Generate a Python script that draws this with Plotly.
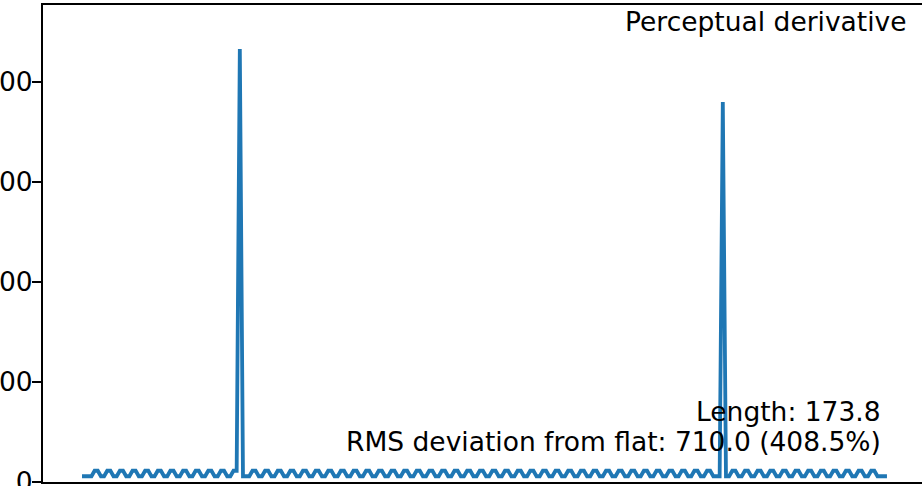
import plotly.graph_objects as go

# perceptual derivative of a 256-step colormap
deriv = [
    115, 115, 115, 115, 225, 225, 115, 115, 225, 225, 115, 115, 225, 225, 115, 115,
    225, 225, 115, 115, 225, 225, 115, 115, 225, 225, 115, 115, 225, 225, 115, 115,
    225, 225, 115, 115, 225, 225, 115, 115, 225, 225, 115, 115, 225, 225, 115, 115,
    225, 225, 8660, 115, 115, 115, 225, 225, 115, 115, 225, 225, 115, 115, 225, 225,
    115, 115, 225, 225, 115, 115, 225, 225, 115, 115, 225, 225, 115, 115, 225, 225,
    115, 115, 225, 225, 115, 115, 225, 225, 115, 115, 225, 225, 115, 115, 225, 225,
    115, 115, 225, 225, 115, 115, 225, 225, 115, 115, 225, 225, 115, 115, 225, 225,
    115, 115, 225, 225, 115, 115, 225, 225, 115, 115, 225, 225, 115, 115, 225, 225,
    115, 115, 225, 225, 115, 115, 225, 225, 115, 115, 225, 225, 115, 115, 225, 225,
    115, 115, 225, 225, 115, 115, 225, 225, 115, 115, 225, 225, 115, 115, 225, 225,
    115, 115, 225, 225, 115, 115, 225, 225, 115, 115, 225, 225, 115, 115, 225, 225,
    115, 115, 225, 225, 115, 115, 225, 225, 115, 115, 225, 225, 115, 115, 225, 225,
    115, 115, 225, 225, 115, 115, 225, 225, 115, 115, 115, 7600, 115, 115, 225, 225,
    115, 115, 225, 225, 115, 115, 225, 225, 115, 115, 225, 225, 115, 115, 225, 225,
    115, 115, 225, 225, 115, 115, 225, 225, 115, 115, 225, 225, 115, 115, 225, 225,
    115, 115, 225, 225, 115, 115, 225, 225, 115, 115, 225, 225, 115, 115, 115, 115,
]
steps = list(range(len(deriv)))

y_ticks = [0, 2000, 4000, 6000, 8000]
title_text = "Perceptual derivative"
length_text = "Length: 173.8"
rms_text = "RMS deviation from flat: 710.0 (408.5%)"

FONT = "DejaVu Sans"
FS = 26.5

fig = go.Figure()
fig.add_trace(go.Scatter(
    x=steps,
    y=deriv,
    mode="lines",
    line=dict(color="#1f77b4", width=3.8),
    hoverinfo="none",
    cliponaxis=False,
))

fig.update_layout(
    width=922,
    height=486,
    margin=dict(l=43, r=0, t=5, b=4, autoexpand=False),
    paper_bgcolor="white",
    plot_bgcolor="white",
    showlegend=False,
    font=dict(family=FONT, size=FS, color="black"),
    xaxis=dict(
        range=[-12.35, 266.1],
        automargin=False,
        showgrid=False,
        zeroline=False,
        showline=True,
        mirror=True,
        linecolor="black",
        linewidth=2,
        ticks="",
        showticklabels=False,
    ),
    yaxis=dict(
        range=[0, 9540],
        automargin=False,
        tickvals=y_ticks,
        showgrid=False,
        zeroline=False,
        showline=True,
        linecolor="black",
        linewidth=2,
        ticks="outside",
        ticklen=9,
        tickwidth=2,
        tickcolor="black",
        tickfont=dict(family=FONT, size=FS, color="black"),
        ticklabelstandoff=-6,
        ticklabeloverflow="allow",
    ),
    annotations=[
        dict(text=title_text, xref="paper", yref="paper", x=0.9852, y=0.9644,
             xanchor="right", yanchor="middle", showarrow=False),
        dict(text=length_text, xref="paper", yref="paper", x=0.9556, y=0.1468,
             xanchor="right", yanchor="middle", showarrow=False),
        dict(text=rms_text, xref="paper", yref="paper", x=0.9556, y=0.0849,
             xanchor="right", yanchor="middle", showarrow=False),
    ],
)

# drop the browser's default body margin so the figure sits at the window corner
fig.write_html("out.html", config={"displayModeBar": False},
               post_script="document.body.style.margin='0';")
